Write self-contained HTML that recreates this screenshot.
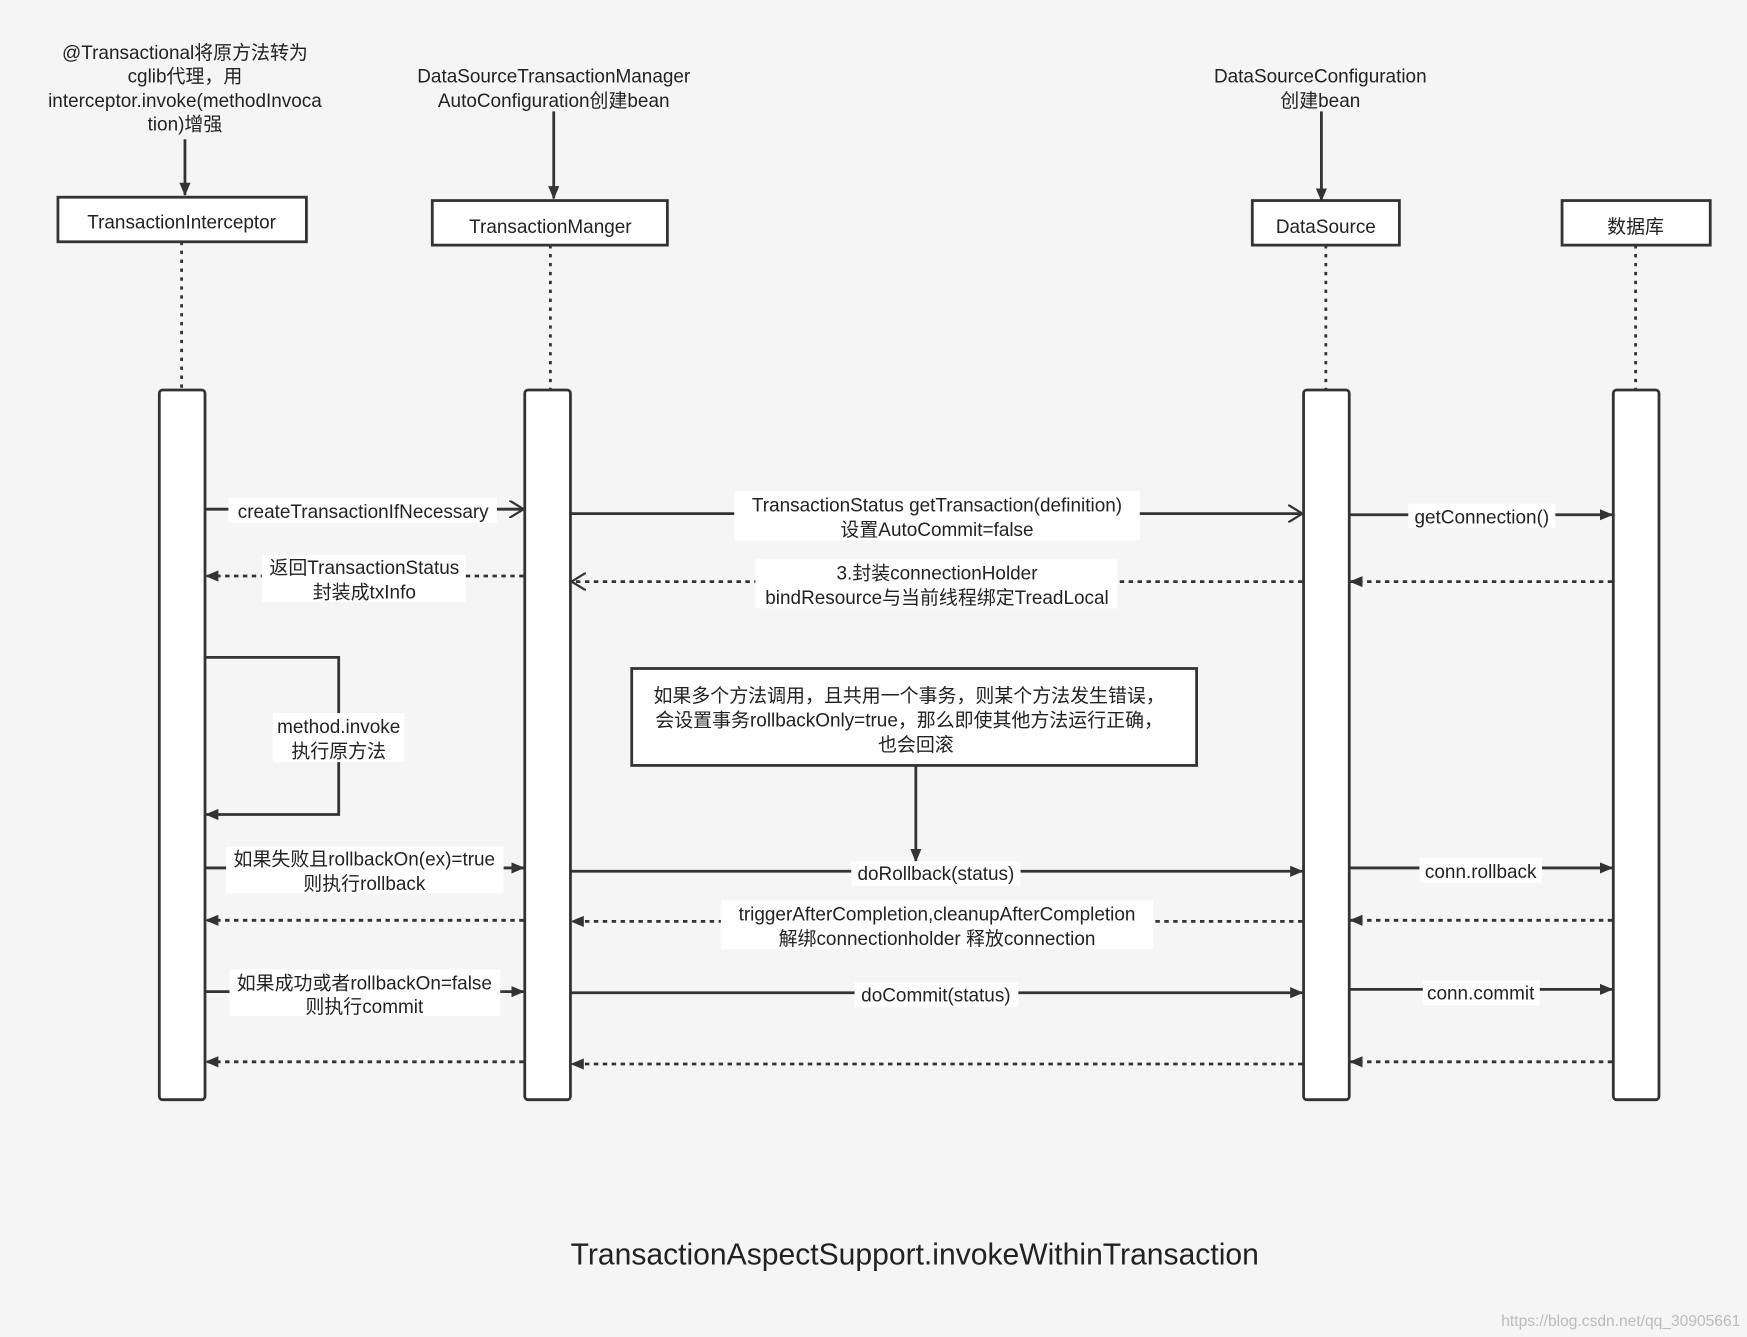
<!DOCTYPE html>
<html><head><meta charset="utf-8"><style>
html,body{margin:0;padding:0;background:#f5f5f5}
svg{display:block}
text{font-family:"Liberation Sans","Noto Sans CJK SC",sans-serif;font-size:17px;fill:#222}
</style></head><body>
<svg width="1747" height="1337" viewBox="0 0 1568 1200" preserveAspectRatio="none" xmlns="http://www.w3.org/2000/svg">
<defs>
<marker id="f" markerWidth="12" markerHeight="10" refX="11" refY="5" orient="auto" markerUnits="userSpaceOnUse"><path d="M0,0 L12,5 L0,10 Z" fill="#333"/></marker>
<marker id="o" markerWidth="14" markerHeight="16" refX="13" refY="8" orient="auto" markerUnits="userSpaceOnUse"><path d="M0,0 L13,8 L0,16" fill="none" stroke="#333" stroke-width="2"/></marker>
</defs>
<rect width="1568" height="1200" fill="#f5f5f5"/>
<g text-anchor="middle">
<text x="166" y="53">@Transactional将原方法转为</text>
<text x="166" y="74">cglib代理，用</text>
<text x="166" y="96">interceptor.invoke(methodInvoca</text>
<text x="166" y="117">tion)增强</text>
<text x="497" y="74">DataSourceTransactionManager</text>
<text x="497" y="96">AutoConfiguration创建bean</text>
<text x="1185" y="74">DataSourceConfiguration</text>
<text x="1185" y="96">创建bean</text>
</g>
<g stroke="#333" stroke-width="2.5" fill="none">
<line x1="166" y1="125" x2="166" y2="175" marker-end="url(#f)"/>
<line x1="497" y1="100" x2="497" y2="178" marker-end="url(#f)"/>
<line x1="1186" y1="100" x2="1186" y2="180" marker-end="url(#f)"/>
</g>
<g fill="#fff" stroke="#333" stroke-width="2.5">
<rect x="52" y="177" width="223" height="40"/>
<rect x="388" y="180" width="211" height="40"/>
<rect x="1124" y="180" width="132" height="40"/>
<rect x="1402" y="180" width="133" height="40"/>
</g>
<g text-anchor="middle">
<text x="163" y="205">TransactionInterceptor</text>
<text x="494" y="209">TransactionManger</text>
<text x="1190" y="209">DataSource</text>
<text x="1468" y="209">数据库</text>
</g>
<g stroke="#333" stroke-width="2.5" stroke-dasharray="3,5">
<line x1="163" y1="217" x2="163" y2="350"/>
<line x1="494" y1="220" x2="494" y2="350"/>
<line x1="1190" y1="220" x2="1190" y2="350"/>
<line x1="1468" y1="220" x2="1468" y2="350"/>
</g>
<g fill="#fff" stroke="#333" stroke-width="2.5">
<rect x="143" y="350" width="41" height="637" rx="3"/>
<rect x="471" y="350" width="41" height="637" rx="3"/>
<rect x="1170" y="350" width="41" height="637" rx="3"/>
<rect x="1448" y="350" width="41" height="637" rx="3"/>
</g>
<g stroke="#333" stroke-width="2.5" fill="none">
<line x1="184" y1="457" x2="470" y2="457" marker-end="url(#o)"/>
<line x1="512" y1="461" x2="1169" y2="461" marker-end="url(#o)"/>
<line x1="1211" y1="462" x2="1447" y2="462" marker-end="url(#f)"/>
<line x1="470" y1="517" x2="185" y2="517" stroke-dasharray="4,4" marker-end="url(#f)"/>
<line x1="1169" y1="522" x2="513" y2="522" stroke-dasharray="4,4" marker-end="url(#o)"/>
<line x1="1447" y1="522" x2="1212" y2="522" stroke-dasharray="4,4" marker-end="url(#f)"/>
<polyline points="184,590 304,590 304,731 185,731" marker-end="url(#f)"/>
<line x1="822" y1="688" x2="822" y2="773" marker-end="url(#f)"/>
<line x1="184" y1="779" x2="470" y2="779" marker-end="url(#f)"/>
<line x1="512" y1="782" x2="1169" y2="782" marker-end="url(#f)"/>
<line x1="1211" y1="779" x2="1447" y2="779" marker-end="url(#f)"/>
<line x1="470" y1="826" x2="185" y2="826" stroke-dasharray="4,4" marker-end="url(#f)"/>
<line x1="1169" y1="827" x2="513" y2="827" stroke-dasharray="4,4" marker-end="url(#f)"/>
<line x1="1447" y1="826" x2="1212" y2="826" stroke-dasharray="4,4" marker-end="url(#f)"/>
<line x1="184" y1="890" x2="470" y2="890" marker-end="url(#f)"/>
<line x1="512" y1="891" x2="1169" y2="891" marker-end="url(#f)"/>
<line x1="1211" y1="888" x2="1447" y2="888" marker-end="url(#f)"/>
<line x1="470" y1="953" x2="185" y2="953" stroke-dasharray="4,4" marker-end="url(#f)"/>
<line x1="1169" y1="955" x2="513" y2="955" stroke-dasharray="4,4" marker-end="url(#f)"/>
<line x1="1447" y1="953" x2="1212" y2="953" stroke-dasharray="4,4" marker-end="url(#f)"/>
</g>
<g fill="#fff">
<rect x="205" y="447" width="241" height="22"/>
<rect x="659" y="441" width="364" height="44"/>
<rect x="1264" y="452" width="132" height="22"/>
<rect x="235" y="498" width="183" height="42"/>
<rect x="678" y="502" width="325" height="44"/>
<rect x="245" y="640" width="118" height="44"/>
<rect x="203" y="760" width="249" height="42"/>
<rect x="764" y="773" width="152" height="22"/>
<rect x="1274" y="770" width="110" height="22"/>
<rect x="647" y="808" width="388" height="44"/>
<rect x="206" y="870" width="243" height="42"/>
<rect x="767" y="882" width="147" height="22"/>
<rect x="1277" y="880" width="105" height="22"/>
</g>
<rect x="567" y="600" width="507" height="87" fill="#fff" stroke="#333" stroke-width="2.5"/>
<g text-anchor="middle">
<text x="326" y="465">createTransactionIfNecessary</text>
<text x="841" y="459">TransactionStatus getTransaction(definition)</text>
<text x="841" y="481">设置AutoCommit=false</text>
<text x="1330" y="470">getConnection()</text>
<text x="327" y="515">返回TransactionStatus</text>
<text x="327" y="537">封装成txInfo</text>
<text x="841" y="520">3.封装connectionHolder</text>
<text x="841" y="542">bindResource与当前线程绑定TreadLocal</text>
<text x="304" y="658">method.invoke</text>
<text x="304" y="680">执行原方法</text>
<text x="816" y="630">如果多个方法调用，且共用一个事务，则某个方法发生错误，</text>
<text x="816" y="652">会设置事务rollbackOnly=true，那么即使其他方法运行正确，</text>
<text x="822" y="674">也会回滚</text>
<text x="327" y="777">如果失败且rollbackOn(ex)=true</text>
<text x="327" y="799">则执行rollback</text>
<text x="840" y="790">doRollback(status)</text>
<text x="1329" y="788">conn.rollback</text>
<text x="841" y="826">triggerAfterCompletion,cleanupAfterCompletion</text>
<text x="841" y="848">解绑connectionholder 释放connection</text>
<text x="327" y="888">如果成功或者rollbackOn=false</text>
<text x="327" y="909">则执行commit</text>
<text x="840" y="899">doCommit(status)</text>
<text x="1329" y="897">conn.commit</text>
<text x="821" y="1135" style="font-size:27px;font-weight:500">TransactionAspectSupport.invokeWithinTransaction</text>
</g>
<text x="1562" y="1190" text-anchor="end" style="font-size:14px;fill:#bbb">https://blog.csdn.net/qq_30905661</text>
</svg>
</body></html>
